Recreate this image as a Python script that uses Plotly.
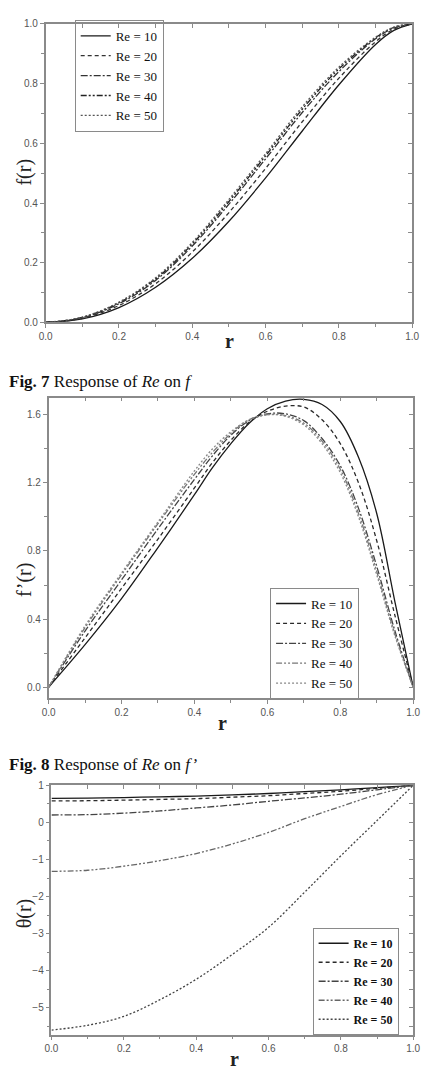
import plotly.graph_objects as go

# ---------------- data ----------------
re_labels = ["Re = 10", "Re = 20", "Re = 30", "Re = 40", "Re = 50"]

# Fig. 7 : f(r)
r_f = [0.0, 0.1, 0.2, 0.3, 0.4, 0.5, 0.6, 0.7, 0.8, 0.9, 0.95, 1.0]
f_re10 = [0.0, 0.012, 0.050, 0.118, 0.215, 0.339, 0.484, 0.641, 0.796, 0.931, 0.978, 1.0]
f_re20 = [0.0, 0.014, 0.057, 0.130, 0.236, 0.368, 0.516, 0.672, 0.818, 0.940, 0.982, 1.0]
f_re30 = [0.0, 0.016, 0.063, 0.141, 0.256, 0.396, 0.548, 0.703, 0.840, 0.950, 0.986, 1.0]
f_re40 = [0.0, 0.017, 0.066, 0.146, 0.263, 0.405, 0.558, 0.714, 0.849, 0.953, 0.988, 1.0]
f_re50 = [0.0, 0.018, 0.068, 0.150, 0.268, 0.412, 0.565, 0.722, 0.855, 0.955, 0.989, 1.0]

# Fig. 8 : f'(r)
r_fp = [0.0, 0.1, 0.2, 0.3, 0.4, 0.45, 0.5, 0.55, 0.6, 0.65, 0.7, 0.75, 0.8, 0.85, 0.9, 0.95, 1.0]
fp_re10 = [0.0, 0.25, 0.52, 0.82, 1.13, 1.29, 1.43, 1.55, 1.635, 1.68, 1.69, 1.66, 1.56, 1.35, 1.02, 0.50, 0.0]
fp_re20 = [0.0, 0.29, 0.58, 0.87, 1.17, 1.32, 1.45, 1.555, 1.62, 1.65, 1.645, 1.57, 1.43, 1.20, 0.86, 0.42, 0.0]
fp_re30 = [0.0, 0.33, 0.63, 0.93, 1.22, 1.36, 1.48, 1.565, 1.605, 1.605, 1.565, 1.46, 1.30, 1.05, 0.71, 0.33, 0.0]
fp_re40 = [0.0, 0.35, 0.66, 0.96, 1.25, 1.38, 1.49, 1.57, 1.60, 1.595, 1.55, 1.445, 1.28, 1.02, 0.68, 0.31, 0.0]
fp_re50 = [0.0, 0.36, 0.67, 0.97, 1.27, 1.40, 1.50, 1.57, 1.60, 1.59, 1.54, 1.43, 1.26, 1.00, 0.66, 0.30, 0.0]

# Fig. 9 : theta(r)
r_t = [0.0, 0.1, 0.2, 0.3, 0.4, 0.5, 0.6, 0.7, 0.8, 0.9, 1.0]
t_re10 = [0.65, 0.655, 0.67, 0.69, 0.71, 0.74, 0.78, 0.83, 0.88, 0.94, 1.0]
t_re20 = [0.58, 0.585, 0.60, 0.62, 0.64, 0.68, 0.72, 0.78, 0.84, 0.92, 1.0]
t_re30 = [0.20, 0.21, 0.25, 0.31, 0.39, 0.47, 0.57, 0.66, 0.76, 0.88, 1.0]
t_re40 = [-1.32, -1.29, -1.18, -1.03, -0.84, -0.58, -0.27, 0.10, 0.43, 0.75, 1.0]
t_re50 = [-5.60, -5.47, -5.23, -4.78, -4.23, -3.56, -2.83, -1.88, -0.90, 0.05, 1.0]

x_ticks = [0.0, 0.2, 0.4, 0.6, 0.8, 1.0]
y1_ticks = [0.0, 0.2, 0.4, 0.6, 0.8, 1.0]
y2_ticks = [0.0, 0.4, 0.8, 1.2, 1.6]
y3_ticks = [1, 0, -1, -2, -3, -4, -5]

# ---------------- styles ----------------
dashes = ["solid", "4px,3px", "7px,2px,2px,2px", "6px,2px,2px,2px,2px,2px", "2px,2px"]
colors1 = ["#1a1a1a", "#333333", "#333333", "#222222", "#555555"]
colors2 = ["#1a1a1a", "#2a2a2a", "#444444", "#777777", "#888888"]
colors3 = ["#1a1a1a", "#2a2a2a", "#444444", "#666666", "#444444"]

serif = "Liberation Serif, Times New Roman, serif"
sans = "Liberation Sans, Arial, sans-serif"

W, H = 426, 1090

def px_x(p):
    return p / W

def px_y(p):
    return 1 - p / H

fig = go.Figure()

sets = [
    (r_f, [f_re10, f_re20, f_re30, f_re40, f_re50], "x", "y", "legend", colors1),
    (r_fp, [fp_re10, fp_re20, fp_re30, fp_re40, fp_re50], "x2", "y2", "legend2", colors2),
    (r_t, [t_re10, t_re20, t_re30, t_re40, t_re50], "x3", "y3", "legend3", colors3),
]
for rx, series, xa, ya, lg, cols in sets:
    for i, s in enumerate(series):
        fig.add_trace(go.Scatter(
            x=rx, y=s, mode="lines", name=re_labels[i],
            line=dict(color=cols[i], width=1.3, dash=dashes[i], shape="spline", smoothing=1.0),
            xaxis=xa, yaxis=ya, legend=lg,
        ))

# empty traces for the mirrored (top/right) axes
for xa, ya in [("x4", "y4"), ("x5", "y5"), ("x6", "y6")]:
    fig.add_trace(go.Scatter(x=[None], y=[None], xaxis=xa, yaxis=ya,
                             showlegend=False, hoverinfo="skip"))

axcol = "#8a8a8a"
tickfont = dict(family=sans, size=10, color="#555555")

def xaxis(dom, anchor):
    return dict(domain=dom, anchor=anchor, range=[0, 1], tickvals=x_ticks,
                tickformat=".1f", ticks="outside", ticklen=4, tickcolor=axcol,
                showline=True, linecolor=axcol, linewidth=1.5, showgrid=False,
                zeroline=False, tickfont=tickfont, ticklabeloverflow="allow",
                minor=dict(ticks="outside", dtick=0.1, ticklen=3, tickcolor=axcol))

def yaxis(dom, anchor, rng, tv, fmt, mdt):
    return dict(domain=dom, anchor=anchor, range=rng, tickvals=tv, tickformat=fmt,
                ticks="outside", ticklen=4, tickcolor=axcol, showline=True,
                linecolor=axcol, linewidth=1.5, showgrid=False, zeroline=False,
                tickfont=tickfont, ticklabeloverflow="allow",
                minor=dict(ticks="outside", dtick=mdt, ticklen=3, tickcolor=axcol))

def xmirror(over, anchor):
    return dict(overlaying=over, anchor=anchor, side="top", range=[0, 1], dtick=0.1,
                ticks="inside", ticklen=4, tickcolor=axcol, showticklabels=False,
                showline=True, linecolor=axcol, linewidth=1.5, showgrid=False, zeroline=False)

def ymirror(over, anchor, rng, dt):
    return dict(overlaying=over, anchor=anchor, side="right", range=rng, dtick=dt,
                tick0=0, ticks="inside", ticklen=4, tickcolor=axcol, showticklabels=False,
                showline=True, linecolor=axcol, linewidth=1.5, showgrid=False, zeroline=False)

d1x = [px_x(40), px_x(419)]
d1y = [px_y(320), px_y(18)]
d2x = [px_x(43), px_x(420)]
d2y = [px_y(700), px_y(396)]
d3x = [px_x(46), px_x(420)]
d3y = [px_y(1040), px_y(788)]

r2 = [-0.065, 1.70]
r3 = [-5.72, 1.0]

legend_common = dict(xanchor="left", yanchor="top", bgcolor="rgba(255,255,255,0)",
                     bordercolor="#8a8a8a", borderwidth=1, tracegroupgap=0,
                     itemwidth=30)

fig.update_layout(
    width=W, height=H, margin=dict(l=0, r=0, t=0, b=0),
    paper_bgcolor="white", plot_bgcolor="white",
    xaxis=xaxis(d1x, "y"), yaxis=yaxis(d1y, "x", [0, 1], y1_ticks, ".1f", 0.1),
    xaxis2=xaxis(d2x, "y2"), yaxis2=yaxis(d2y, "x2", r2, y2_ticks, ".1f", 0.2),
    xaxis3=xaxis(d3x, "y3"), yaxis3=yaxis(d3y, "x3", r3, y3_ticks, "d", 0.5),
    xaxis4=xmirror("x", "y"), yaxis4=ymirror("y", "x", [0, 1], 0.1),
    xaxis5=xmirror("x2", "y2"), yaxis5=ymirror("y2", "x2", r2, 0.2),
    xaxis6=xmirror("x3", "y3"), yaxis6=ymirror("y3", "x3", r3, 0.5),
    legend=dict(x=px_x(70), y=px_y(14), font=dict(family=serif, size=13, color="#111"),
                **legend_common),
    legend2=dict(x=px_x(272), y=px_y(588), font=dict(family=serif, size=13, color="#111"),
                 **legend_common),
    legend3=dict(x=px_x(316), y=px_y(932),
                 font=dict(family=serif, size=12, color="#111", weight="bold"),
                 **legend_common),
    showlegend=True,
)

ann = []
titlefont = dict(family=serif, size=20, color="#222")
# y titles
ann.append(dict(text="f(r)", x=px_x(18), y=px_y(168), textangle=-90, font=titlefont))
ann.append(dict(text="f\u2019(r)", x=px_x(18), y=px_y(580), textangle=-90, font=titlefont))
ann.append(dict(text="\u03b8(r)", x=px_x(18), y=px_y(917), textangle=-90, font=titlefont))
# x titles
ann.append(dict(text="<b>r</b>", x=px_x(230), y=px_y(339), font=titlefont))
ann.append(dict(text="<b>r</b>", x=px_x(223), y=px_y(725), font=titlefont))
ann.append(dict(text="<b>r</b>", x=px_x(235), y=px_y(1065), font=titlefont))
# captions
capfont = dict(family=serif, size=17, color="#111")
ann.append(dict(text="<b>Fig. 7</b> Response of <i>Re</i> on <i>f</i>", x=0, y=px_y(380),
                xanchor="left", font=capfont))
ann.append(dict(text="<b>Fig. 8</b> Response of <i>Re</i> on <i>f\u2019</i>", x=0, y=px_y(767),
                xanchor="left", font=capfont))

for a in ann:
    a.setdefault("xanchor", "center")
    a.update(xref="paper", yref="paper", yanchor="middle", showarrow=False)
fig.update_layout(annotations=ann)

fig.write_html("out.html")
